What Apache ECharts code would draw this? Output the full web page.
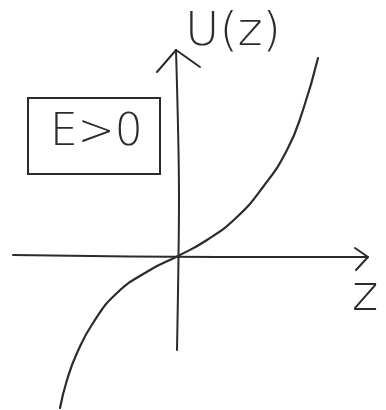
<!DOCTYPE html>
<html>
<head>
<meta charset="utf-8">
<style>
  html, body { margin: 0; padding: 0; background: #ffffff; }
  #chart { width: 386px; height: 410px; }
</style>
<script src="https://cdn.jsdelivr.net/npm/echarts@6/dist/echarts.min.js"></script>
</head>
<body>
<div id="chart"></div>
<script>
// Potential U(z) for E > 0: odd, steepening curve through the origin
var curveZ = [-118, -111, -101, -85, -61, -28, 0, 29, 59, 85, 109, 125, 140];
var curveU = [-152, -124, -97, -67, -37, -14, 0, 16, 39, 69, 106, 146, 198];

// Hand-drawn axes and open arrow heads
var zAxisLine = [[-165, 1], [40, -1], [190, -1]];
var zArrowHead = [[177, 8], [190, -1], [178, -14]];
var uAxisLine = [[-1, -94], [1, 60], [-2, 206]];
var uArrowHead = [[-21, 184], [-2, 206], [22, 189]];

var labelU = 'U(z)';
var labelZ = 'z';
var labelE = 'E>0';

var ink = '#2b2b2b';

function pairs(xs, ys) {
  return xs.map(function (x, i) { return [x, ys[i]]; });
}

function stroke(data, width, smooth) {
  return {
    type: 'line',
    data: data,
    symbol: 'none',
    smooth: smooth || false,
    silent: true,
    lineStyle: { color: ink, width: width, cap: 'round', join: 'round' },
    z: 2
  };
}

var chart = echarts.init(document.getElementById('chart'), null, { renderer: 'canvas' });

chart.setOption({
  backgroundColor: '#ffffff',
  animation: false,
  grid: { left: 0, right: 0, top: 0, bottom: 0, containLabel: false },
  xAxis: {
    type: 'value', min: -178, max: 208,
    axisLine: { show: false }, axisTick: { show: false },
    axisLabel: { show: false }, splitLine: { show: false }
  },
  yAxis: {
    type: 'value', min: -154, max: 256,
    axisLine: { show: false }, axisTick: { show: false },
    axisLabel: { show: false }, splitLine: { show: false }
  },
  series: [
    stroke(zAxisLine, 2, 0.3),
    stroke(zArrowHead, 2),
    stroke(uAxisLine, 2, 0.3),
    stroke(uArrowHead, 2),
    stroke(pairs(curveZ, curveU), 2.2, 0.5)
  ],
  graphic: [
    {
      type: 'text', left: 185, top: 9,
      style: { text: labelU, font: '300 47px "DejaVu Sans"', fill: ink }
    },
    {
      type: 'text', left: 352, top: 272,
      style: { text: labelZ, font: '300 50px "DejaVu Sans"', fill: ink }
    },
    {
      type: 'text', left: 50, top: 112,
      style: { text: labelE, font: '300 44px "DejaVu Sans"', fill: ink }
    },
    {
      type: 'rect', shape: { x: 28, y: 98, width: 132, height: 76 },
      style: { fill: 'none', stroke: ink, lineWidth: 2 }
    }
  ]
});
</script>
</body>
</html>
